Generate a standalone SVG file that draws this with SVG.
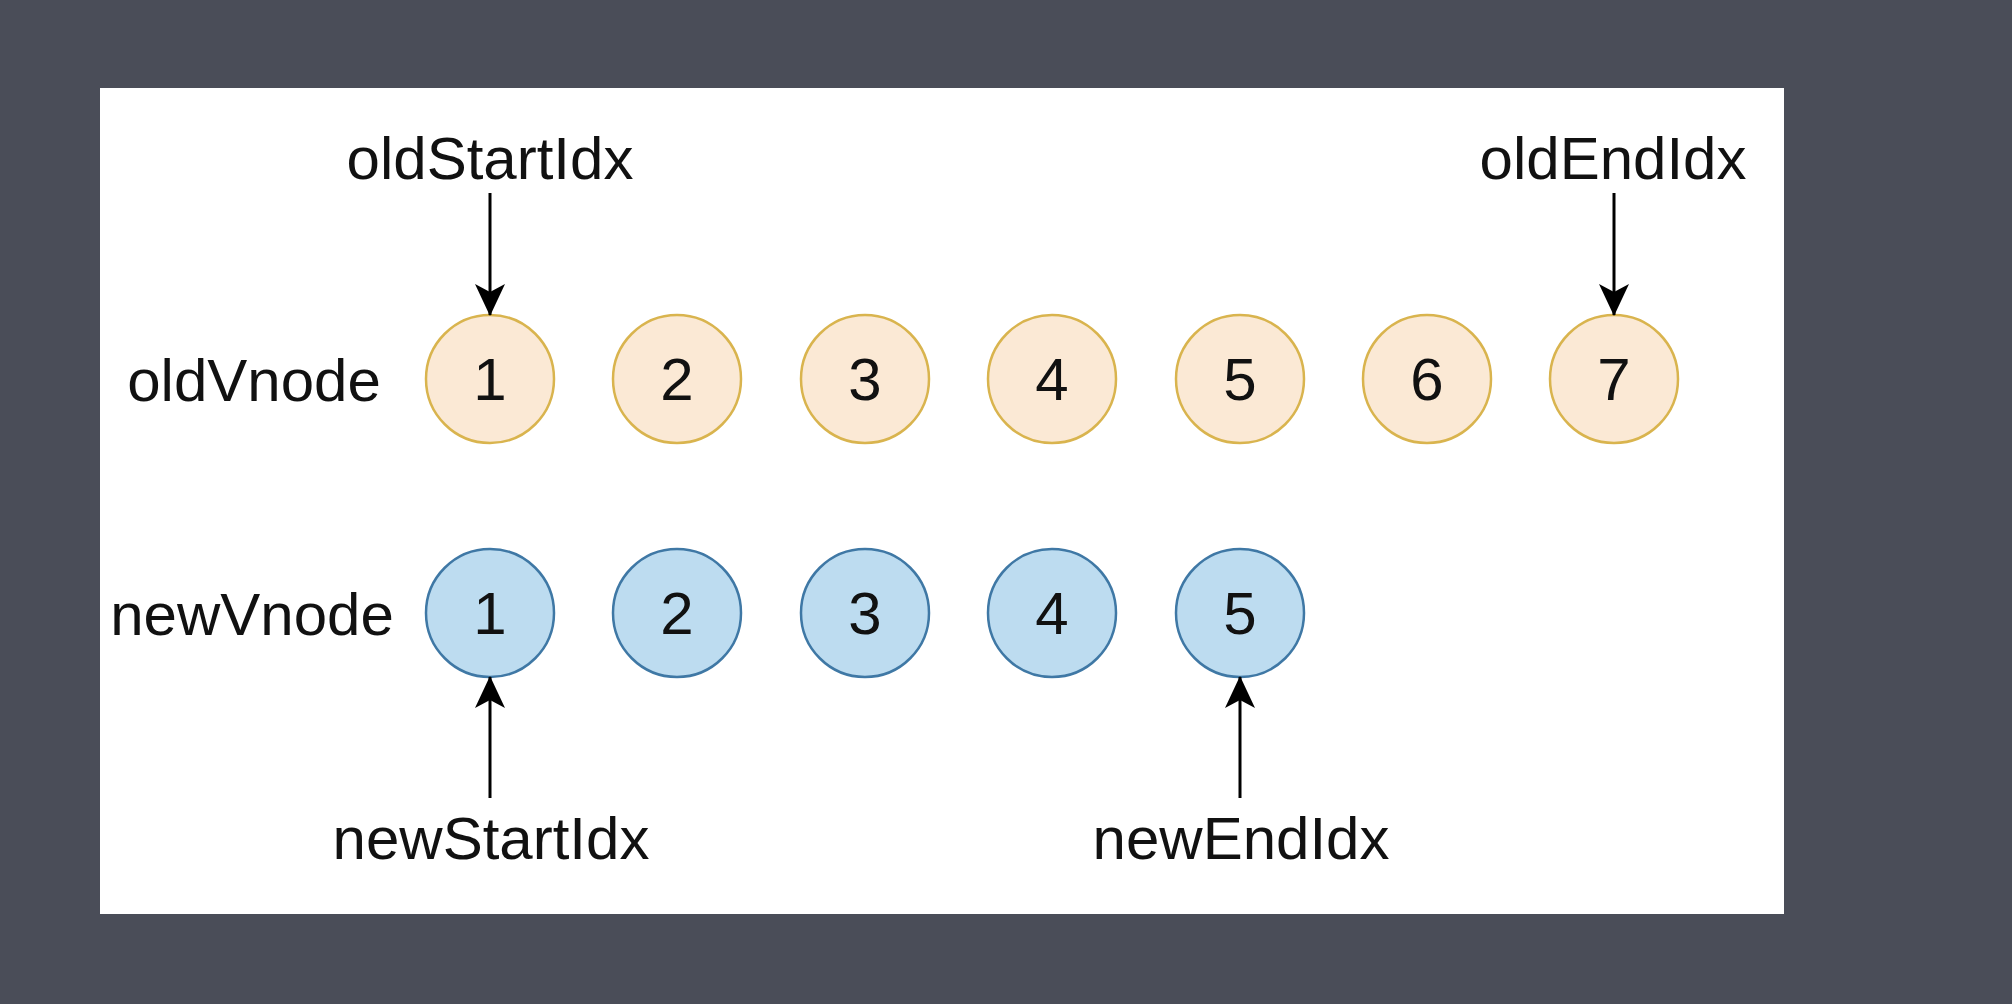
<svg xmlns="http://www.w3.org/2000/svg" width="2012" height="1004" viewBox="0 0 2012 1004">
<defs>
<style>
.t{font-family:"Liberation Sans",Arial,sans-serif;font-size:60px;fill:#111;text-anchor:middle}
.old{fill:#fbe9d5;stroke:#d9b44e;stroke-width:2.5}
.new{fill:#bddcf0;stroke:#3f78a5;stroke-width:2.5}
.arr{stroke:#000;stroke-width:3;fill:none;marker-end:url(#ah)}
</style>
<marker id="ah" viewBox="0 0 32 32" markerWidth="32" markerHeight="32" refX="31" refY="16" orient="auto" markerUnits="userSpaceOnUse">
<path d="M0,1 L32,16 L0,31 L8,16 z" fill="#000"/>
</marker>
</defs>
<rect width="2012" height="1004" fill="#4a4d58"/>
<rect x="100" y="88" width="1684" height="826" fill="#ffffff"/>
<g id="label-oldVnode"><text class="t" x="254" y="401">oldVnode</text></g>
<g id="label-newVnode"><text class="t" x="252" y="635">newVnode</text></g>
<g id="old1"><circle class="old" cx="490" cy="379" r="64"/><text class="t" x="490" y="400">1</text></g>
<g id="old2"><circle class="old" cx="677" cy="379" r="64"/><text class="t" x="677" y="400">2</text></g>
<g id="old3"><circle class="old" cx="865" cy="379" r="64"/><text class="t" x="865" y="400">3</text></g>
<g id="old4"><circle class="old" cx="1052" cy="379" r="64"/><text class="t" x="1052" y="400">4</text></g>
<g id="old5"><circle class="old" cx="1240" cy="379" r="64"/><text class="t" x="1240" y="400">5</text></g>
<g id="old6"><circle class="old" cx="1427" cy="379" r="64"/><text class="t" x="1427" y="400">6</text></g>
<g id="old7"><circle class="old" cx="1614" cy="379" r="64"/><text class="t" x="1614" y="400">7</text></g>
<g id="new1"><circle class="new" cx="490" cy="613" r="64"/><text class="t" x="490" y="634">1</text></g>
<g id="new2"><circle class="new" cx="677" cy="613" r="64"/><text class="t" x="677" y="634">2</text></g>
<g id="new3"><circle class="new" cx="865" cy="613" r="64"/><text class="t" x="865" y="634">3</text></g>
<g id="new4"><circle class="new" cx="1052" cy="613" r="64"/><text class="t" x="1052" y="634">4</text></g>
<g id="new5"><circle class="new" cx="1240" cy="613" r="64"/><text class="t" x="1240" y="634">5</text></g>
<g id="oldStartIdx"><text class="t" x="490" y="179">oldStartIdx</text></g>
<g id="oldEndIdx"><text class="t" x="1613" y="179">oldEndIdx</text></g>
<g id="newStartIdx"><text class="t" x="491" y="859">newStartIdx</text></g>
<g id="newEndIdx"><text class="t" x="1241" y="859">newEndIdx</text></g>
<g id="connectors">
<line class="arr" x1="490" y1="193" x2="490" y2="315"/>
<line class="arr" x1="1614" y1="193" x2="1614" y2="315"/>
<line class="arr" x1="490" y1="798" x2="490" y2="677"/>
<line class="arr" x1="1240" y1="798" x2="1240" y2="677"/>
</g>
</svg>
